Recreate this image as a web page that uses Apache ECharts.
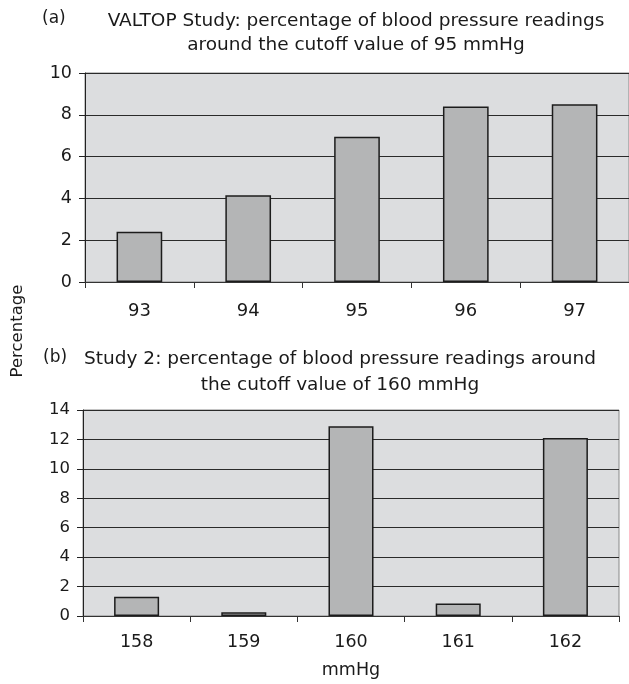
<!DOCTYPE html>
<html><head><meta charset="utf-8">
<script src="https://cdn.jsdelivr.net/npm/echarts@6/dist/echarts.min.js"></script>
<style>html,body{margin:0;padding:0;background:#fff}#c{width:629px;height:684px}</style>
</head><body><div id="c"></div>
<script>
var catsA = ['93','94','95','96','97'];
var valsA = [2.4, 4.15, 6.95, 8.4, 8.5];
var catsB = ['158','159','160','161','162'];
var valsB = [1.3, 0.25, 12.9, 0.85, 12.1];
var titleA = 'VALTOP Study: percentage of blood pressure readings\naround the cutoff value of 95 mmHg';
var titleB = 'Study 2: percentage of blood pressure readings around\nthe cutoff value of 160 mmHg';
var FONT = 'DejaVu Sans';
var TXT = '#1a1a1a';

var chart = echarts.init(document.getElementById('c'), null, {renderer:'canvas'});
function yAx(idx, max){
  return {type:'value', gridIndex:idx, min:0, max:max, interval:2,
    axisLine:{show:true, lineStyle:{color:'#222', width:1}},
    axisTick:{show:true, length:6, lineStyle:{color:'#222'}},
    axisLabel:{color:TXT, fontFamily:FONT, fontSize:idx?16.5:17.5, margin:13},
    splitLine:{show:true, lineStyle:{color:'#2a2a2a', width:1}}};
}
function xAx(idx, cats, extra){
  var o = {type:'category', gridIndex:idx, data:cats, boundaryGap:true,
    axisLine:{show:true, lineStyle:{color:'#333', width:1}},
    axisTick:{show:true, alignWithLabel:false, length:6, lineStyle:{color:'#333'}},
    axisLabel:{color:TXT, fontFamily:FONT, fontSize:idx?17.5:18, margin:idx?17:20},
    splitLine:{show:false}};
  for (var k in extra) o[k]=extra[k];
  return o;
}
chart.setOption({
  animation:false,
  backgroundColor:'#fff',
  title:[
    {text:titleA, left:356, top:8.5, padding:0, textAlign:'center',
     textStyle:{fontFamily:FONT, fontSize:18.5, fontWeight:'normal', color:TXT, lineHeight:24.5}},
    {text:titleB, left:340, top:346, padding:0, textAlign:'center',
     textStyle:{fontFamily:FONT, fontSize:18.5, fontWeight:'normal', color:TXT, lineHeight:26}},
    {text:'(a)', left:42, top:10, padding:0, textStyle:{fontFamily:FONT, fontSize:17, fontWeight:'normal', color:TXT}},
    {text:'(b)', left:43, top:349, padding:0, textStyle:{fontFamily:FONT, fontSize:17, fontWeight:'normal', color:TXT}}
  ],
  graphic:[
    {type:'text', x:9, y:331, rotation:Math.PI/2,
     style:{text:'Percentage', fontFamily:FONT, fontSize:16.5, fill:TXT, textAlign:'center', textVerticalAlign:'top'}}
  ],
  grid:[
    {left:85, top:73, width:545, height:209, show:true, backgroundColor:'#dcdddf', borderColor:'#888', borderWidth:1},
    {left:83, top:410, width:536, height:206, show:true, backgroundColor:'#dcdddf', borderColor:'#888', borderWidth:1}
  ],
  xAxis:[
    xAx(0, catsA, {}),
    xAx(1, catsB, {name:'mmHg', nameLocation:'middle', nameGap:45,
      nameTextStyle:{color:TXT, fontFamily:FONT, fontSize:17.5}})
  ],
  yAxis:[yAx(0,10), yAx(1,14)],
  series:[
    {type:'bar', xAxisIndex:0, yAxisIndex:0, data:valsA, barWidth:'42%',
     itemStyle:{color:'#b4b5b6', borderColor:'#1c1c1c', borderWidth:1.5}},
    {type:'bar', xAxisIndex:1, yAxisIndex:1, data:valsB, barWidth:'42%',
     itemStyle:{color:'#b4b5b6', borderColor:'#1c1c1c', borderWidth:1.5}}
  ]
});
</script></body></html>
